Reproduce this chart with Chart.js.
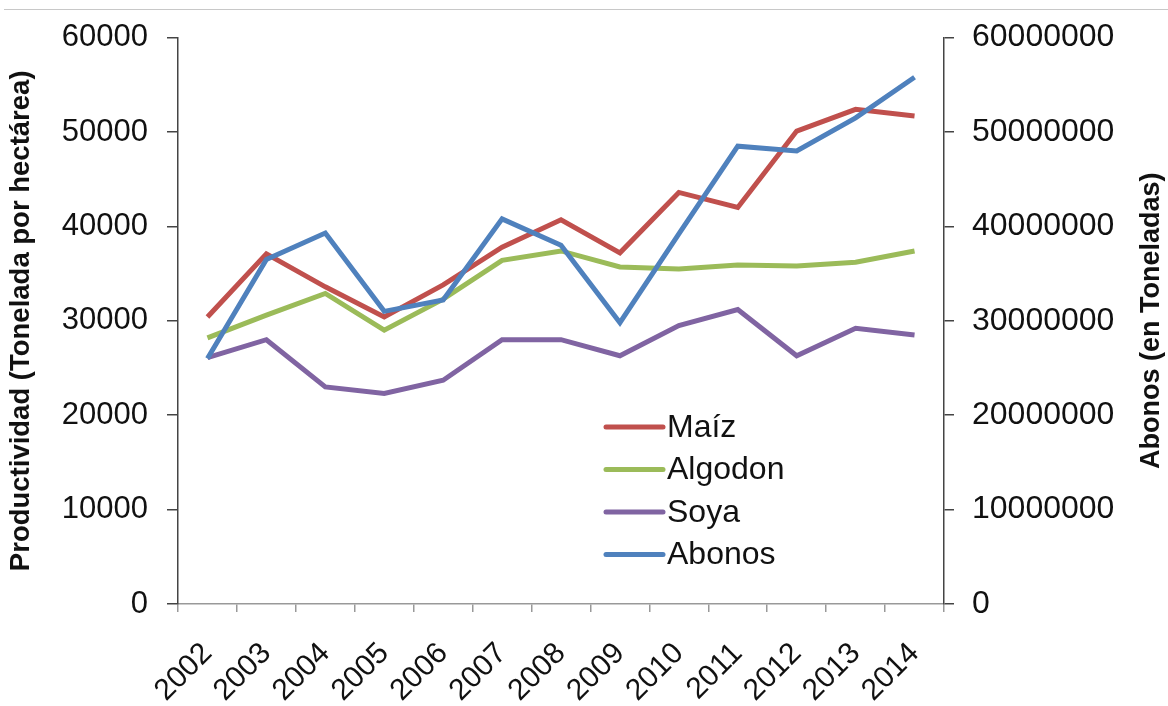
<!DOCTYPE html>
<html>
<head>
    <meta charset="utf-8">
    <title>Productividad y Abonos 2002-2014</title>
    <script src="https://cdn.jsdelivr.net/npm/chart.js@4.4.0/dist/chart.umd.min.js"></script>
    <style>
        html, body { margin: 0; padding: 0; background: #fff; }
        #wrap { position: relative; width: 1168px; height: 706px; }
        #topLine { position: absolute; left: 4px; right: 0; top: 9px; height: 1px; background: #c8c8c8; }
        #myChart { position: absolute; left: 0; top: 0; }
    </style>
</head>
<body>
    <div id="wrap">
        <canvas id="myChart" width="1168" height="706"></canvas>
        <div id="topLine"></div>
    </div>
    <script>
    // years on the x axis
    const years = ['2002', '2003', '2004', '2005', '2006', '2007', '2008', '2009', '2010', '2011', '2012', '2013', '2014'];

    // left axis series (Tonelada por hectárea)
    const maiz    = [30400, 37100, 33600, 30400, 33800, 37800, 40700, 37200, 43600, 42000, 50100, 52400, 51700];
    const algodon = [28200, 30600, 32900, 29000, 32300, 36400, 37400, 35700, 35500, 35900, 35800, 36200, 37400];
    const soya    = [26100, 28000, 23000, 22300, 23700, 28000, 28000, 26300, 29500, 31200, 26300, 29200, 28500];

    // right axis series (en Toneladas)
    const abonos  = [26000000, 36500000, 39300000, 31000000, 32200000, 40800000, 38000000, 29800000, 39200000, 48500000, 48000000, 51500000, 55800000];

    // tick values
    const leftTicks  = [0, 10000, 20000, 30000, 40000, 50000, 60000];
    const rightTicks = [0, 10000000, 20000000, 30000000, 40000000, 50000000, 60000000];

    const FONT = '"Liberation Sans", Arial, Helvetica, sans-serif';

    //draws the legend inside the plot like the excel one
    const insideLegend = {
        id: 'insideLegend',
        afterDatasetsDraw(chart, args, opts) {
            const ctx = chart.ctx;
            ctx.save();
            ctx.font = opts.size + 'px ' + FONT;
            ctx.textBaseline = 'middle';
            ctx.textAlign = 'left';
            chart.data.datasets.forEach((ds, i) => {
                const y = opts.y + i * opts.rowGap;
                ctx.strokeStyle = ds.borderColor;
                ctx.lineWidth = 5;
                ctx.lineCap = 'round';
                ctx.beginPath();
                ctx.moveTo(opts.x, y);
                ctx.lineTo(opts.x + opts.lineLen, y);
                ctx.stroke();
                ctx.fillStyle = '#111';
                ctx.fillText(ds.label, opts.x + opts.lineLen + 4, y + 1);
            });
            ctx.restore();
        }
    };

    // right axis title reads bottom-to-top in the original, chart.js turns it the other way
    const rightTitle = {
        id: 'rightTitle',
        afterDraw(chart, args, opts) {
            const ctx = chart.ctx;
            const area = chart.chartArea;
            ctx.save();
            ctx.translate(opts.x, (area.top + area.bottom) / 2);
            ctx.rotate(-Math.PI / 2);
            ctx.font = 'bold ' + opts.size + 'px ' + FONT;
            ctx.fillStyle = '#111';
            ctx.textAlign = 'center';
            ctx.textBaseline = 'middle';
            ctx.fillText(opts.text, 0, 0);
            ctx.restore();
        }
    };

    const ctx = document.getElementById('myChart').getContext('2d');
    const chart = new Chart(ctx, {
        type: 'line',
        data: {
            labels: years,
            datasets: [
                { label: 'Maíz', data: maiz, borderColor: '#C0504D', yAxisID: 'y', order: 1 },
                { label: 'Algodon', data: algodon, borderColor: '#9BBB59', yAxisID: 'y', order: 2 },
                { label: 'Soya', data: soya, borderColor: '#8064A2', yAxisID: 'y', order: 3 },
                { label: 'Abonos', data: abonos, borderColor: '#4F81BD', yAxisID: 'y2', order: 0 }
            ]
        },
        options: {
            responsive: false,
            animation: false,
            layout: { padding: { top: 34, left: 0, right: 1, bottom: 0 } },
            elements: {
                line: { borderWidth: 5, tension: 0, borderCapStyle: 'butt', borderJoinStyle: 'miter' },
                point: { radius: 0, hoverRadius: 0 }
            },
            plugins: {
                legend: { display: false },
                tooltip: { enabled: false },
                insideLegend: { x: 606, y: 427, rowGap: 42.5, lineLen: 57, size: 32 },
                rightTitle: { x: 1152, size: 27, text: 'Abonos (en Toneladas)' }
            },
            scales: {
                x: {
                    offset: true,
                    grid: { offset: true, drawOnChartArea: false, drawTicks: true, tickLength: 8, color: '#999', lineWidth: 1.5 },
                    border: { display: true, color: '#999', width: 1.5 },
                    ticks: {
                        color: '#111',
                        font: { family: FONT, size: 30 },
                        minRotation: 45,
                        maxRotation: 45,
                        padding: 24,
                        labelOffset: 0,
                        autoSkip: false
                    },
                    afterFit: (scale) => { scale.height = 102; }
                },
                y: {
                    position: 'left',
                    min: 0,
                    max: 60000,
                    afterBuildTicks: (scale) => { scale.ticks = leftTicks.map(v => ({ value: v })); },
                    grid: { drawOnChartArea: false, tickLength: 11, color: '#444', lineWidth: 1.5 },
                    border: { display: true, color: '#444', width: 1.5 },
                    ticks: {
                        color: '#111',
                        font: { family: FONT, size: 31 },
                        padding: 19,
                        callback: (v) => String(v)
                    },
                    title: {
                        display: true,
                        text: 'Productividad (Tonelada por hectárea)',
                        color: '#111',
                        font: { family: FONT, size: 27.5, weight: 'bold' },
                        padding: { top: 5, bottom: 0 }
                    },
                    afterFit: (scale) => { scale.width = 178; }
                },
                y2: {
                    position: 'right',
                    min: 0,
                    max: 60000000,
                    afterBuildTicks: (scale) => { scale.ticks = rightTicks.map(v => ({ value: v })); },
                    grid: { drawOnChartArea: false, tickLength: 10, color: '#444', lineWidth: 1.5 },
                    border: { display: true, color: '#444', width: 1.5 },
                    ticks: {
                        color: '#111',
                        font: { family: FONT, size: 32 },
                        padding: 18,
                        callback: (v) => String(v)
                    },
                    afterFit: (scale) => { scale.width = 223; }
                }
            }
        },
        plugins: [insideLegend, rightTitle]
    });
    </script>
</body>
</html>
